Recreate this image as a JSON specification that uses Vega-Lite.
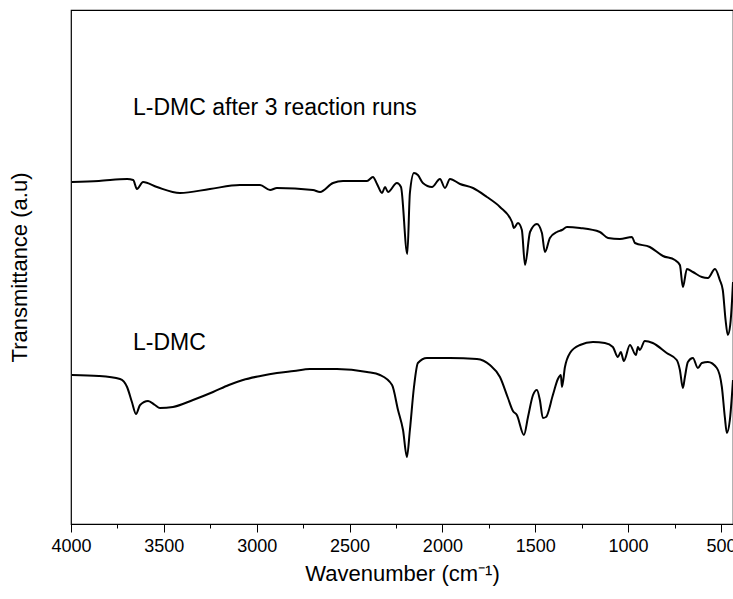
{
  "$schema": "https://vega.github.io/schema/vega-lite/v6.json",
  "width": 662,
  "height": 514,
  "autosize": {"type": "none"},
  "padding": {"left": 71, "top": 10, "right": 0, "bottom": 75},
  "background": "white",
  "config": {
    "font": "Liberation Sans",
    "view": {"stroke": "black", "strokeWidth": 1.2}
  },
  "datasets": {
    "spectra": [
      {"series": "after", "wn": 3995, "t": 342},
      {"series": "after", "wn": 3850, "t": 343},
      {"series": "after", "wn": 3698, "t": 345},
      {"series": "after", "wn": 3665, "t": 344},
      {"series": "after", "wn": 3645, "t": 335},
      {"series": "after", "wn": 3612, "t": 342},
      {"series": "after", "wn": 3537, "t": 337},
      {"series": "after", "wn": 3413, "t": 331},
      {"series": "after", "wn": 3252, "t": 335},
      {"series": "after", "wn": 3090, "t": 339},
      {"series": "after", "wn": 2982, "t": 339},
      {"series": "after", "wn": 2928, "t": 334},
      {"series": "after", "wn": 2891, "t": 336},
      {"series": "after", "wn": 2697, "t": 334},
      {"series": "after", "wn": 2659, "t": 332},
      {"series": "after", "wn": 2589, "t": 341},
      {"series": "after", "wn": 2535, "t": 343},
      {"series": "after", "wn": 2406, "t": 343},
      {"series": "after", "wn": 2374, "t": 347},
      {"series": "after", "wn": 2352, "t": 340},
      {"series": "after", "wn": 2325, "t": 331},
      {"series": "after", "wn": 2309, "t": 337},
      {"series": "after", "wn": 2293, "t": 332},
      {"series": "after", "wn": 2245, "t": 341},
      {"series": "after", "wn": 2223, "t": 337},
      {"series": "after", "wn": 2189, "t": 270},
      {"series": "after", "wn": 2175, "t": 331},
      {"series": "after", "wn": 2153, "t": 351},
      {"series": "after", "wn": 2132, "t": 349},
      {"series": "after", "wn": 2105, "t": 341},
      {"series": "after", "wn": 2056, "t": 337},
      {"series": "after", "wn": 2013, "t": 345},
      {"series": "after", "wn": 1986, "t": 336},
      {"series": "after", "wn": 1959, "t": 345},
      {"series": "after", "wn": 1905, "t": 340},
      {"series": "after", "wn": 1835, "t": 336},
      {"series": "after", "wn": 1760, "t": 327},
      {"series": "after", "wn": 1690, "t": 317},
      {"series": "after", "wn": 1625, "t": 302},
      {"series": "after", "wn": 1615, "t": 296},
      {"series": "after", "wn": 1593, "t": 301},
      {"series": "after", "wn": 1572, "t": 294},
      {"series": "after", "wn": 1555, "t": 259},
      {"series": "after", "wn": 1528, "t": 292},
      {"series": "after", "wn": 1491, "t": 300},
      {"series": "after", "wn": 1464, "t": 291},
      {"series": "after", "wn": 1448, "t": 272},
      {"series": "after", "wn": 1421, "t": 286},
      {"series": "after", "wn": 1383, "t": 292},
      {"series": "after", "wn": 1356, "t": 294},
      {"series": "after", "wn": 1329, "t": 297},
      {"series": "after", "wn": 1259, "t": 296},
      {"series": "after", "wn": 1152, "t": 292},
      {"series": "after", "wn": 1108, "t": 286},
      {"series": "after", "wn": 1044, "t": 285},
      {"series": "after", "wn": 979, "t": 287},
      {"series": "after", "wn": 963, "t": 281},
      {"series": "after", "wn": 883, "t": 277},
      {"series": "after", "wn": 812, "t": 268},
      {"series": "after", "wn": 748, "t": 264},
      {"series": "after", "wn": 721, "t": 259},
      {"series": "after", "wn": 705, "t": 237},
      {"series": "after", "wn": 683, "t": 255},
      {"series": "after", "wn": 651, "t": 252},
      {"series": "after", "wn": 603, "t": 247},
      {"series": "after", "wn": 570, "t": 246},
      {"series": "after", "wn": 532, "t": 255},
      {"series": "after", "wn": 506, "t": 244},
      {"series": "after", "wn": 490, "t": 234},
      {"series": "after", "wn": 475, "t": 204},
      {"series": "after", "wn": 463, "t": 189},
      {"series": "after", "wn": 450, "t": 199},
      {"series": "after", "wn": 440, "t": 224},
      {"series": "after", "wn": 435, "t": 242},
      {"series": "fresh", "wn": 3995, "t": 149},
      {"series": "fresh", "wn": 3850, "t": 148},
      {"series": "fresh", "wn": 3736, "t": 145},
      {"series": "fresh", "wn": 3698, "t": 137},
      {"series": "fresh", "wn": 3672, "t": 122},
      {"series": "fresh", "wn": 3650, "t": 110},
      {"series": "fresh", "wn": 3628, "t": 119},
      {"series": "fresh", "wn": 3585, "t": 123},
      {"series": "fresh", "wn": 3548, "t": 119},
      {"series": "fresh", "wn": 3521, "t": 116},
      {"series": "fresh", "wn": 3451, "t": 117},
      {"series": "fresh", "wn": 3343, "t": 124},
      {"series": "fresh", "wn": 3235, "t": 132},
      {"series": "fresh", "wn": 3150, "t": 139},
      {"series": "fresh", "wn": 3074, "t": 144},
      {"series": "fresh", "wn": 2980, "t": 148},
      {"series": "fresh", "wn": 2891, "t": 151},
      {"series": "fresh", "wn": 2800, "t": 153},
      {"series": "fresh", "wn": 2713, "t": 155},
      {"series": "fresh", "wn": 2568, "t": 155},
      {"series": "fresh", "wn": 2406, "t": 152},
      {"series": "fresh", "wn": 2336, "t": 149},
      {"series": "fresh", "wn": 2271, "t": 139},
      {"series": "fresh", "wn": 2239, "t": 114},
      {"series": "fresh", "wn": 2212, "t": 94},
      {"series": "fresh", "wn": 2191, "t": 67},
      {"series": "fresh", "wn": 2175, "t": 94},
      {"series": "fresh", "wn": 2153, "t": 137},
      {"series": "fresh", "wn": 2132, "t": 161},
      {"series": "fresh", "wn": 2083, "t": 166},
      {"series": "fresh", "wn": 1959, "t": 166},
      {"series": "fresh", "wn": 1814, "t": 165},
      {"series": "fresh", "wn": 1744, "t": 159},
      {"series": "fresh", "wn": 1690, "t": 147},
      {"series": "fresh", "wn": 1647, "t": 126},
      {"series": "fresh", "wn": 1620, "t": 113},
      {"series": "fresh", "wn": 1599, "t": 109},
      {"series": "fresh", "wn": 1561, "t": 89},
      {"series": "fresh", "wn": 1539, "t": 107},
      {"series": "fresh", "wn": 1512, "t": 129},
      {"series": "fresh", "wn": 1491, "t": 134},
      {"series": "fresh", "wn": 1475, "t": 124},
      {"series": "fresh", "wn": 1459, "t": 106},
      {"series": "fresh", "wn": 1442, "t": 107},
      {"series": "fresh", "wn": 1405, "t": 129},
      {"series": "fresh", "wn": 1378, "t": 145},
      {"series": "fresh", "wn": 1362, "t": 149},
      {"series": "fresh", "wn": 1356, "t": 137},
      {"series": "fresh", "wn": 1340, "t": 157},
      {"series": "fresh", "wn": 1313, "t": 171},
      {"series": "fresh", "wn": 1259, "t": 179},
      {"series": "fresh", "wn": 1189, "t": 182},
      {"series": "fresh", "wn": 1125, "t": 181},
      {"series": "fresh", "wn": 1082, "t": 177},
      {"series": "fresh", "wn": 1055, "t": 167},
      {"series": "fresh", "wn": 1039, "t": 172},
      {"series": "fresh", "wn": 1023, "t": 163},
      {"series": "fresh", "wn": 990, "t": 179},
      {"series": "fresh", "wn": 958, "t": 169},
      {"series": "fresh", "wn": 947, "t": 177},
      {"series": "fresh", "wn": 937, "t": 174},
      {"series": "fresh", "wn": 910, "t": 183},
      {"series": "fresh", "wn": 867, "t": 181},
      {"series": "fresh", "wn": 792, "t": 171},
      {"series": "fresh", "wn": 738, "t": 164},
      {"series": "fresh", "wn": 721, "t": 154},
      {"series": "fresh", "wn": 705, "t": 136},
      {"series": "fresh", "wn": 694, "t": 147},
      {"series": "fresh", "wn": 678, "t": 162},
      {"series": "fresh", "wn": 651, "t": 166},
      {"series": "fresh", "wn": 624, "t": 156},
      {"series": "fresh", "wn": 603, "t": 161},
      {"series": "fresh", "wn": 570, "t": 162},
      {"series": "fresh", "wn": 522, "t": 156},
      {"series": "fresh", "wn": 495, "t": 137},
      {"series": "fresh", "wn": 479, "t": 107},
      {"series": "fresh", "wn": 468, "t": 91},
      {"series": "fresh", "wn": 452, "t": 104},
      {"series": "fresh", "wn": 435, "t": 144}
    ],
    "labels": [
      {"label": "L-DMC after 3 reaction runs", "wn": 3666, "t": 416},
      {"label": "L-DMC", "wn": 3666, "t": 181}
    ]
  },
  "layer": [
    {
      "data": {"name": "spectra"},
      "mark": {"type": "line", "color": "black", "strokeWidth": 2, "interpolate": "monotone", "clip": true},
      "encoding": {
        "x": {
          "field": "wn",
          "type": "quantitative",
          "scale": {"domain": [4000, 435], "nice": false, "zero": false},
          "axis": {
            "values": [4000, 3750, 3500, 3250, 3000, 2750, 2500, 2250, 2000, 1750, 1500, 1250, 1000, 750, 500],
            "labelExpr": "datum.value % 500 === 0 ? datum.value : ''",
            "tickSize": {"condition": {"test": "datum.value % 500 === 0", "value": 8}, "value": 4},
            "tickColor": "black",
            "tickWidth": 1,
            "domainColor": "black",
            "domainWidth": 1.2,
            "grid": false,
            "labelFontSize": 18,
            "labelColor": "black",
            "labelPadding": 5,
            "labelFlush": false,
            "labelOverlap": false,
            "title": "Wavenumber  (cm⁻¹)",
            "titleFontSize": 22,
            "titleFontWeight": "normal",
            "titleColor": "black",
            "titlePadding": 8
          }
        },
        "y": {
          "field": "t",
          "type": "quantitative",
          "scale": {"domain": [0, 514], "nice": false, "zero": false},
          "axis": {
            "domain": false,
            "ticks": false,
            "labels": false,
            "grid": false,
            "title": "Transmittance  (a.u)",
            "titleFontSize": 22,
            "titleFontWeight": "normal",
            "titleColor": "black",
            "titlePadding": 40
          }
        },
        "detail": {"field": "series"}
      }
    },
    {
      "data": {"name": "labels"},
      "mark": {"type": "text", "align": "left", "baseline": "middle", "fontSize": 23, "color": "black"},
      "encoding": {
        "x": {"field": "wn", "type": "quantitative"},
        "y": {"field": "t", "type": "quantitative"},
        "text": {"field": "label"}
      }
    }
  ]
}
